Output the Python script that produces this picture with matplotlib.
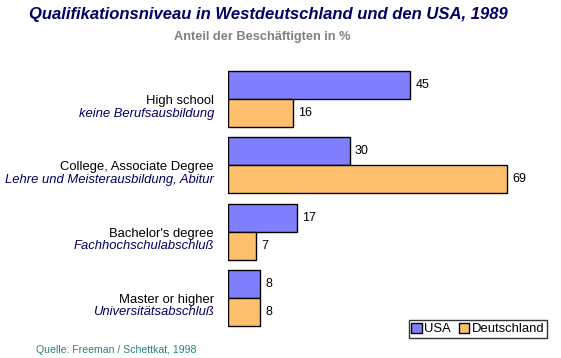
import matplotlib
matplotlib.use("Agg")
import matplotlib.pyplot as plt
import numpy as np
from matplotlib.patches import Patch

plt.rcParams["font.family"] = ["Liberation Sans", "DejaVu Sans"]

categories_en = ["High school", "College, Associate Degree", "Bachelor's degree", "Master or higher"]
categories_de = ["keine Berufsausbildung", "Lehre und Meisterausbildung, Abitur",
                 "Fachhochschulabschluß", "Universitätsabschluß"]
usa = [45, 30, 17, 8]
deutschland = [16, 69, 7, 8]

USA_COLOR = "#8080ff"
DE_COLOR = "#ffc06e"

W, H = 561, 358
fig = plt.figure(figsize=(W / 100, H / 100), dpi=100)

# axes placed in pixel terms: x 228..552, y 59..338 (from top)
left, right, top, bottom = 228, 552, 59.2, 337.8
ax = fig.add_axes([left / W, 1 - bottom / H, (right - left) / W, (bottom - top) / H])
ax.set_xlim(0, 80)
ax.set_ylim(3.6, -0.6)
ax.axis("off")

y = np.arange(len(usa))
h = 0.42
ax.barh(y - h / 2, usa, height=h, color=USA_COLOR, edgecolor="black", linewidth=1)
ax.barh(y + h / 2, deutschland, height=h, color=DE_COLOR, edgecolor="black", linewidth=1)

for i in range(len(usa)):
    ax.text(usa[i] + 1.3, y[i] - h / 2, str(usa[i]), va="center", ha="left", fontsize=9)
    ax.text(deutschland[i] + 1.3, y[i] + h / 2, str(deutschland[i]), va="center", ha="left", fontsize=9)

# category labels to the left of the bars
for i in range(len(usa)):
    ypix = 1 - (99 + i * 66.33) / H
    fig.text(214 / W, ypix - 2 / H, categories_en[i], ha="right", va="center", fontsize=9.4, color="black")
    fig.text(214 / W, ypix - 14.5 / H, categories_de[i], ha="right", va="center", fontsize=9.4,
             style="italic", color="#000066")

fig.text(268 / W, 1 - 14 / H, "Qualifikationsniveau in Westdeutschland und den USA, 1989",
         ha="center", va="center", fontsize=12, fontweight="bold", style="italic", color="#000066")
fig.text(262 / W, 1 - 37 / H, "Anteil der Beschäftigten in %",
         ha="center", va="center", fontsize=9.2, fontweight="bold", color="#808080")
fig.text(36 / W, 1 - 350 / H, "Quelle: Freeman / Schettkat, 1998",
         ha="left", va="center", fontsize=7.6, color="#2a8080")

handles = [Patch(facecolor=USA_COLOR, edgecolor="black", label="USA"),
           Patch(facecolor=DE_COLOR, edgecolor="black", label="Deutschland")]
leg = fig.legend(handles=handles, loc="lower right", bbox_to_anchor=(547 / W, 1 - 338 / H),
                 ncol=2, frameon=True, fancybox=False, edgecolor="black", fontsize=9.4,
                 handlelength=0.8, handleheight=0.8, handletextpad=0.2, columnspacing=0.6,
                 borderpad=0.2, borderaxespad=0)
leg.get_frame().set_linewidth(1)

fig.savefig("out.png", dpi=100, facecolor="white")
